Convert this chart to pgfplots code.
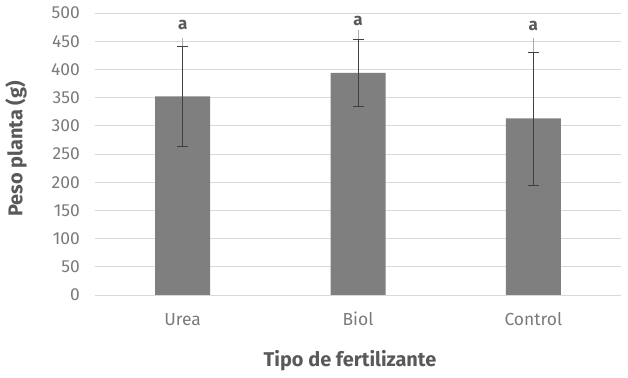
\documentclass[border=0pt]{standalone}
\usepackage{pgfplots}
\pgfplotsset{compat=1.18}
\usepackage{fontspec}
\setmainfont{Fira Sans}
\definecolor{barc}{HTML}{7F7F7F}
\definecolor{gridc}{HTML}{D9D9D9}
\definecolor{tickc}{HTML}{7A7A7A}
\definecolor{labc}{HTML}{595959}
\definecolor{errc}{HTML}{404040}
\begin{document}
\begin{tikzpicture}
\begin{axis}[
  name=ax,
  scale only axis,
  width=526bp, height=282bp,
  xmin=-0.5, xmax=2.5,
  ymin=0, ymax=500,
  ytick={0,50,...,500},
  xtick={0,1,2},
  xticklabels={Urea,Biol,Control},
  axis line style={draw=none},
  major tick length=0pt,
  ymajorgrids, grid style={gridc, line width=0.8pt},
  tick label style={font=\fontsize{17.5}{20}\selectfont, text=tickc},
  /pgf/number format/assume math mode=true,
  yticklabel style={inner sep=0pt, xshift=-15bp},
  xticklabel style={anchor=base, inner sep=0pt, yshift=-31bp},
  ylabel={\textbf{Peso planta (g)}},
  xlabel={\textbf{Tipo de fertilizante}},
  label style={font=\fontsize{20}{24}\selectfont, text=labc},
  ylabel style={at={(axis description cs:-0.1502,0.5177)}, anchor=center, inner sep=0pt},
  xlabel style={at={(axis description cs:0.4848,-0.2553)}, anchor=base, inner sep=0pt},
  clip=false,
]
\addplot[ybar, bar width=55bp, fill=barc, draw=none, bar shift=0pt]
  coordinates {(0,352) (1,394) (2,313)};
% light grey extension lines
\addplot[gray!65, line width=0.8pt] coordinates {(0,352) (0,456)};
\addplot[gray!65, line width=0.8pt] coordinates {(1,394) (1,470)};
\addplot[gray!65, line width=0.8pt] coordinates {(2,313) (2,455)};
% dark error bars
\addplot[draw=none, mark=none,
  error bars/.cd, y dir=both, y explicit,
  error bar style={errc, line width=0.8pt},
  error mark options={errc, rotate=90, mark size=5.5bp, line width=0.8pt}]
  coordinates {(0,352) +- (0,88) (1,394) +- (0,60) (2,313) +- (0,118)};
\node[font=\fontsize{17}{20}\selectfont\bfseries, text=labc] at (axis cs:0,479) {a};
\node[font=\fontsize{17}{20}\selectfont\bfseries, text=labc] at (axis cs:1,486) {a};
\node[font=\fontsize{17}{20}\selectfont\bfseries, text=labc] at (axis cs:2,477) {a};
\end{axis}
\pgfresetboundingbox
\path[use as bounding box] ([xshift=-95bp,yshift=-83bp]ax.south west) rectangle ([xshift=7bp,yshift=13bp]ax.north east);
\end{tikzpicture}
\end{document}
